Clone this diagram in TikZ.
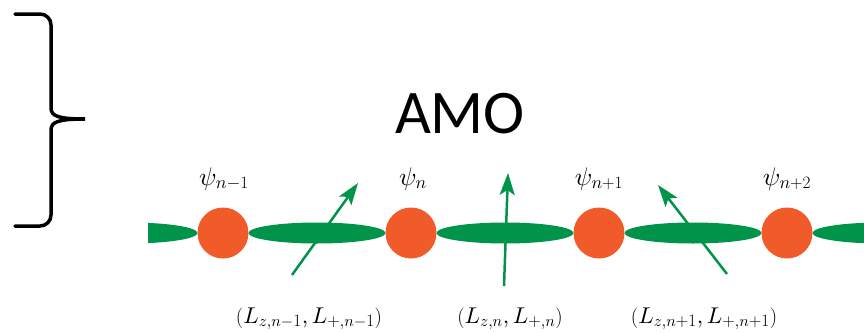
\documentclass[tikz,border=0pt]{standalone}
\usepackage{fontspec}
\newfontfamily\amofont{Carlito}
\DeclareFontShape{OML}{cmm}{m}{it}{<->cmmi10}{}
\DeclareFontShape{OMS}{cmsy}{m}{n}{<->cmsy10}{}
\usetikzlibrary{arrows.meta,shapes.geometric}
\definecolor{siteorange}{HTML}{F15A29}
\definecolor{bondgreen}{HTML}{00934A}
\tikzset{
  site/.style={circle,fill=siteorange,minimum size=51pt,inner sep=0pt},
  bond/.style={ellipse,fill=bondgreen,minimum width=137pt,minimum height=21pt,inner sep=0pt},
  spin/.style={-{Stealth[length=22pt,width=15pt,inset=5pt]},line width=2.5pt,bondgreen},
  psilbl/.style={anchor=base,font=\fontsize{25.5}{30}\selectfont},
  llbl/.style={anchor=base,font=\fontsize{22.8}{27}\selectfont},
  bracel/.style={line width=3.5pt,line cap=round,black},
}

\begin{document}
\begin{tikzpicture}[x=1pt,y=-1pt]
  \useasboundingbox (0,0) rectangle (864,332);

  % brace
  \draw[bracel] (15,14) -- (40,14) to[out=0,in=90] (51,25) -- (51,108)
    .. controls (51,116) and (58,119) .. (85,119)
    .. controls (58,119) and (51,122) .. (51,130) -- (51,215)
    to[out=-90,in=0] (40,226) -- (15,226);

  \node[font=\amofont\fontsize{62}{70}\selectfont,anchor=base] (amo) at (460,133) {AMO};

  % bonds
  \begin{scope}
    \clip (148,200) rectangle (864,270);
    \node[bond] (b0) at (129,233) {};
    \node[bond] (b1) at (317,233) {};
    \node[bond] (b2) at (505,233) {};
    \node[bond] (b3) at (693,233) {};
    \node[bond] (b4) at (881,233) {};
  \end{scope}

  % sites
  \node[site] (s1) at (223,233) {};
  \node[site] (s2) at (411,233) {};
  \node[site] (s3) at (599,233) {};
  \node[site] (s4) at (787,233) {};

  \node[psilbl] (p1) at (224,185) {$\psi_{n-1}$};
  \node[psilbl] (p2) at (413,185) {$\psi_{n}$};
  \node[psilbl] (p3) at (599,185) {$\psi_{n+1}$};
  \node[psilbl] (p4) at (787,185) {$\psi_{n+2}$};

  % spins
  \coordinate (a1s) at (292,275);
  \coordinate (a1e) at (358,183);
  \coordinate (a2s) at (504,286);
  \coordinate (a2e) at (508,173);
  \coordinate (a3s) at (727,274);
  \coordinate (a3e) at (658,185);
  \draw[spin] (a1s) -- (a1e);
  \draw[spin] (a2s) -- (a2e);
  \draw[spin] (a3s) -- (a3e);

  \node[llbl] (l1) at (309,323) {$(L_{z,n-1},L_{+,n-1})$};
  \node[llbl] (l2) at (510,323) {$(L_{z,n},L_{+,n})$};
  \node[llbl] (l3) at (704,323) {$(L_{z,n+1},L_{+,n+1})$};

\end{tikzpicture}
\end{document}
